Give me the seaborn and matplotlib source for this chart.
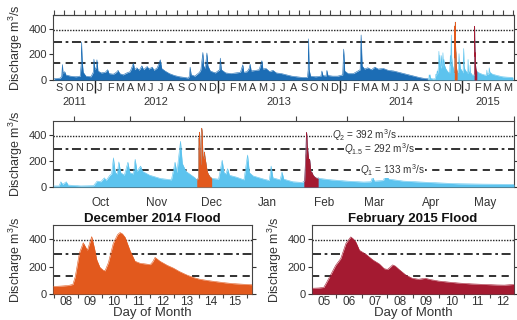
import numpy as np
import pandas as pd
import matplotlib
matplotlib.use('Agg')
import matplotlib.pyplot as plt
import matplotlib.dates as mdates
import matplotlib.transforms as mtransforms
from matplotlib.ticker import NullFormatter, FuncFormatter
import seaborn as sns

sns.set_theme(style='ticks')
plt.rcParams['font.family'] = ['Liberation Sans', 'DejaVu Sans']
plt.rcParams['mathtext.fontset'] = 'custom'
plt.rcParams['mathtext.rm'] = 'Liberation Sans'
plt.rcParams['mathtext.it'] = 'Liberation Sans:italic'
plt.rcParams['mathtext.bf'] = 'Liberation Sans:bold'

# return-period discharges (m3/s)
Q2 = 392
Q15 = 292
Q1 = 133

# daily record before the study period (dark blue)
early_dates = [
    '2011-09-01', '2011-09-20', '2011-09-24', '2011-09-26', '2011-09-28', '2011-10-03',
    '2011-10-06', '2011-10-20', '2011-11-05', '2011-11-18', '2011-11-21', '2011-11-22',
    '2011-11-24', '2011-11-27', '2011-12-05', '2011-12-20', '2011-12-27', '2011-12-29',
    '2012-01-01', '2012-01-05', '2012-01-07', '2012-01-10', '2012-01-20', '2012-02-01',
    '2012-02-08', '2012-02-12', '2012-02-25', '2012-03-05', '2012-03-10', '2012-03-15',
    '2012-03-25', '2012-04-05', '2012-04-15', '2012-04-25', '2012-04-28', '2012-05-05',
    '2012-05-12', '2012-05-20', '2012-05-25', '2012-06-05', '2012-06-10', '2012-06-20',
    '2012-06-25', '2012-07-05', '2012-07-14', '2012-07-18', '2012-07-28', '2012-08-10',
    '2012-08-25', '2012-09-10', '2012-09-25', '2012-10-05', '2012-10-09', '2012-10-11',
    '2012-10-14', '2012-10-25', '2012-11-08', '2012-11-12', '2012-11-18', '2012-11-20',
    '2012-11-25', '2012-11-30', '2012-12-03', '2012-12-10', '2012-12-25', '2013-01-07',
    '2013-01-09', '2013-01-12', '2013-01-25', '2013-02-10', '2013-02-25', '2013-03-10',
    '2013-03-17', '2013-03-20', '2013-03-30', '2013-04-05', '2013-04-08', '2013-04-11',
    '2013-04-25', '2013-05-05', '2013-05-13', '2013-05-16', '2013-05-25', '2013-06-05',
    '2013-06-15', '2013-06-25', '2013-07-10', '2013-07-25', '2013-08-10', '2013-08-25',
    '2013-09-10', '2013-09-26', '2013-09-28', '2013-09-29', '2013-10-01', '2013-10-05',
    '2013-10-20', '2013-11-05', '2013-11-08', '2013-11-11', '2013-11-20', '2013-11-23',
    '2013-11-26', '2013-12-10', '2013-12-25', '2014-01-09', '2014-01-12', '2014-01-15',
    '2014-01-25', '2014-02-10', '2014-02-20', '2014-03-02', '2014-03-05', '2014-03-08',
    '2014-03-15', '2014-03-25', '2014-04-05', '2014-04-15', '2014-04-25', '2014-05-10',
    '2014-05-25', '2014-06-10', '2014-06-25', '2014-07-10', '2014-07-25', '2014-08-10',
    '2014-08-25', '2014-09-10', '2014-09-20',
]
early_q = [
    10, 15, 30, 120, 50, 65,
    40, 30, 25, 30, 120, 295,
    150, 60, 30, 25, 60, 162,
    80, 100, 157, 70, 55, 60,
    80, 50, 45, 60, 75, 50,
    40, 55, 65, 130, 80, 95,
    75, 110, 80, 105, 85, 100,
    75, 95, 157, 90, 70, 50,
    35, 25, 20, 15, 30, 100,
    40, 30, 60, 80, 214, 110,
    90, 210, 110, 70, 55, 80,
    170, 80, 55, 50, 55, 60,
    118, 60, 65, 90, 123, 70,
    75, 80, 150, 85, 90, 65,
    75, 55, 50, 40, 30, 25,
    20, 20, 80, 320, 80, 30,
    25, 30, 70, 35, 30, 75,
    35, 30, 30, 40, 240, 70,
    50, 50, 65, 80, 350, 110,
    85, 95, 80, 100, 85, 90,
    75, 70, 60, 50, 40, 30,
    20, 12, 10,
]

# study period Sep 2014 - May 2015 (light blue), flood windows excluded
study_dates = [
    '2014-09-20', '2014-09-23', '2014-09-24', '2014-09-25', '2014-09-27', '2014-09-28',
    '2014-10-05', '2014-10-12', '2014-10-14', '2014-10-16', '2014-10-18', '2014-10-19',
    '2014-10-21', '2014-10-22', '2014-10-23', '2014-10-24', '2014-10-25', '2014-10-26',
    '2014-10-27', '2014-10-29', '2014-10-31', '2014-11-01', '2014-11-03', '2014-11-04',
    '2014-11-05', '2014-11-07', '2014-11-08', '2014-11-12', '2014-11-18', '2014-11-24',
    '2014-11-26', '2014-11-27', '2014-11-29', '2014-11-30', '2014-12-02', '2014-12-05',
    '2014-12-07',
    '2014-12-17', '2014-12-20', '2014-12-22', '2014-12-23', '2014-12-24', '2014-12-25',
    '2014-12-26', '2014-12-30', '2015-01-03', '2015-01-05', '2015-01-06', '2015-01-08',
    '2015-01-14', '2015-01-17', '2015-01-18', '2015-01-19', '2015-01-23', '2015-01-24',
    '2015-01-25', '2015-01-30', '2015-02-04',
    '2015-02-14', '2015-02-20', '2015-03-01', '2015-03-10', '2015-03-14', '2015-03-15',
    '2015-03-16', '2015-03-21', '2015-03-22', '2015-03-24', '2015-04-01', '2015-04-15',
    '2015-05-01', '2015-05-15', '2015-06-01',
]
study_q = [
    8, 8, 40, 20, 40, 15,
    8, 10, 45, 40, 70, 50,
    90, 100, 223, 110, 100, 192,
    110, 90, 190, 110, 100, 212,
    120, 160, 120, 90, 65, 55,
    190, 110, 350, 180, 120, 90,
    70,
    65, 60, 205, 110, 100, 140,
    90, 75, 55, 245, 110, 85,
    60, 50, 160, 70, 55, 115,
    60, 40, 35,
    65, 55, 45, 38, 40, 77,
    45, 50, 95, 60, 45, 35,
    25, 22, 20,
]

# December 2014 flood (day of month, discharge)
dec_day = [7.98, 8.3, 8.6, 8.8, 8.9, 9.07, 9.23, 9.4, 9.58, 9.7, 9.79, 9.92, 10.05,
           10.13, 10.27, 10.47, 10.65, 10.75, 10.85, 10.96, 11.16, 11.37, 11.58, 11.8,
           12.0, 12.1, 12.2, 12.4, 12.7, 12.95, 13.2, 13.5, 13.8, 14.05, 14.4, 14.74,
           15.1, 15.43, 15.8, 16.2]
dec_q = [55, 58, 62, 70, 128, 300, 375, 320, 420, 330, 250, 195, 175,
         170, 230, 370, 435, 450, 440, 415, 320, 240, 225, 220,
         215, 235, 268, 240, 210, 190, 165, 140, 120, 108, 98, 90,
         82, 76, 72, 68]

# February 2015 flood (day of month, discharge)
feb_day = [5.05, 5.3, 5.5, 5.6, 5.8, 5.97, 6.17, 6.37, 6.56, 6.65, 6.76, 6.9, 7.16,
           7.42, 7.68, 7.87, 8.0, 8.1, 8.2, 8.3, 8.45, 8.71, 8.97, 9.22, 9.48, 9.7,
           10.0, 10.4, 10.8, 11.3, 11.8, 12.3, 12.58, 12.95]
feb_q = [42, 44, 48, 80, 150, 210, 260, 370, 418, 405, 380, 320, 290,
         250, 220, 185, 180, 195, 213, 205, 180, 140, 115, 108, 115, 105,
         95, 87, 80, 74, 70, 66, 65, 70]

C_EARLY = '#1c6db5'
C_STUDY = '#5cc3ee'
C_DEC = '#e2591d'
C_FEB = '#a41a31'
C_LINE = '#222222'
C_TEXT = '#333333'


def day_to_time(month_start, days):
    return pd.Timestamp(month_start) + pd.to_timedelta(np.array(days) - 1, unit='D')


early_t = pd.to_datetime(early_dates)
dec_t = day_to_time('2014-12-01', dec_day)
feb_t = day_to_time('2015-02-01', feb_day)

study = pd.concat([
    pd.DataFrame({'t': pd.to_datetime(study_dates), 'q': study_q}),
    pd.DataFrame({'t': dec_t, 'q': dec_q}),
    pd.DataFrame({'t': feb_t, 'q': feb_q}),
]).sort_values('t')


def hydro(ax, t, q, color):
    sns.lineplot(x=t, y=q, ax=ax, color=color, lw=0.4, estimator=None, sort=False, zorder=3)
    ax.fill_between(t, 0, q, color=color, lw=0, zorder=3)


def q_lines(ax):
    ax.axhline(Q2, color=C_LINE, lw=1.0, ls=(0, (1, 1)), zorder=1)
    ax.axhline(Q15, color=C_LINE, lw=1.3, ls=(0, (5, 2, 1.5, 2)), zorder=1)
    ax.axhline(Q1, color=C_LINE, lw=1.3, ls=(0, (4, 3)), zorder=1)


def style_y(ax):
    ax.set_ylim(0, 505)
    ax.set_yticks([0, 200, 400])
    ax.set_ylabel('Discharge m$^3$/s', fontsize=9, color=C_TEXT, labelpad=2)
    ax.tick_params(axis='y', labelsize=8, colors=C_TEXT, length=3, width=0.8, pad=1.5)
    ax.tick_params(axis='y', right=True, direction='out')
    for s in ax.spines.values():
        s.set_color('#444444')
        s.set_linewidth(0.8)
        s.set_visible(True)
    ax.set_xlabel('')


fig = plt.figure(figsize=(5.17, 3.2), dpi=100)
W, H = 517.0, 320.0


def box(x0, y0, x1, y1):
    return [x0 / W, 1 - y1 / H, (x1 - x0) / W, (y1 - y0) / H]


ax1 = fig.add_axes(box(53, 15, 514, 80))
ax2 = fig.add_axes(box(53, 121, 514, 187))
ax3 = fig.add_axes(box(53, 225, 252, 294))
ax4 = fig.add_axes(box(312, 225, 514, 294))

# --- full record ---
q_lines(ax1)
hydro(ax1, early_t, early_q, C_EARLY)
hydro(ax1, study['t'], study['q'], C_STUDY)
hydro(ax1, dec_t, dec_q, C_DEC)
hydro(ax1, feb_t, feb_q, C_FEB)
x0, x1 = pd.Timestamp('2011-08-29'), pd.Timestamp('2015-06-04')
ax1.set_xlim(x0, x1)
style_y(ax1)
ax1.xaxis.set_major_locator(mdates.YearLocator())
ax1.xaxis.set_major_formatter(NullFormatter())
ax1.xaxis.set_minor_locator(mdates.MonthLocator(bymonthday=15))
ax1.xaxis.set_minor_formatter(FuncFormatter(lambda v, p: mdates.num2date(v).strftime('%b')[0]))
ax1.tick_params(axis='x', which='major', length=9, width=1.0, color=C_LINE, direction='out')
ax1.tick_params(axis='x', which='minor', length=0, labelsize=7.8, colors=C_TEXT, pad=2.5)
top = ax1.secondary_xaxis('top')
top.xaxis.set_major_locator(mdates.MonthLocator())
top.xaxis.set_major_formatter(NullFormatter())
top.tick_params(length=3.5, width=0.8, color='#444444', direction='out')
top.spines['top'].set_color('#444444')
top.spines['top'].set_linewidth(0.8)
yr_tr = mtransforms.blended_transform_factory(ax1.transData, ax1.transAxes)
for yr in [2011, 2012, 2013, 2014, 2015]:
    a = max(pd.Timestamp(f'{yr}-01-01'), x0)
    b = min(pd.Timestamp(f'{yr + 1}-01-01'), x1)
    mid = a + (b - a) / 2
    ax1.text(mdates.date2num(mid), -0.335, str(yr), transform=yr_tr, ha='center', va='center',
             fontsize=8, color=C_TEXT)

# --- study period ---
q_lines(ax2)
hydro(ax2, study['t'], study['q'], C_STUDY)
hydro(ax2, dec_t, dec_q, C_DEC)
hydro(ax2, feb_t, feb_q, C_FEB)
ax2.set_xlim(pd.Timestamp('2014-09-19 16:00'), pd.Timestamp('2015-06-01'))
style_y(ax2)
ax2.xaxis.set_major_locator(mdates.MonthLocator())
ax2.xaxis.set_major_formatter(NullFormatter())
ax2.xaxis.set_minor_locator(mdates.MonthLocator(bymonthday=16))
ax2.xaxis.set_minor_formatter(mdates.DateFormatter('%b'))
ax2.tick_params(axis='x', which='major', bottom=False, top=True, length=3.5, width=0.8,
                color='#444444', direction='out')
ax2.tick_params(axis='x', which='minor', bottom=False, top=False, labelbottom=True,
                labelsize=8.5, colors=C_TEXT, pad=3)
lab_box = dict(facecolor='white', edgecolor='none', pad=0.1)
q_labels = [
    ('2015-03-10 12:00', Q2, 5, '$Q_2$ = 392 m$^3$/s'),
    ('2015-03-19', Q15, -3, '$Q_{1.5}$ = 292 m$^3$/s'),
    ('2015-03-26', Q1, 0, '$Q_1$ = 133 m$^3$/s'),
]
for when, level, nudge, txt in q_labels:
    ax2.text(pd.Timestamp(when), level + nudge, txt, ha='center', va='center',
             fontsize=7.2, color=C_TEXT, bbox=lab_box, zorder=5)

# --- flood close-ups ---
for ax, t, q, c, title, lims in [
    (ax3, dec_t, dec_q, C_DEC, 'December 2014 Flood', ('2014-12-07 23:30', '2014-12-16 05:00')),
    (ax4, feb_t, feb_q, C_FEB, 'February 2015 Flood', ('2015-02-05 01:00', '2015-02-12 23:00')),
]:
    q_lines(ax)
    hydro(ax, t, q, c)
    ax.set_xlim(pd.Timestamp(lims[0]), pd.Timestamp(lims[1]))
    style_y(ax)
    ax.xaxis.set_major_locator(mdates.DayLocator())
    ax.xaxis.set_major_formatter(NullFormatter())
    ax.xaxis.set_minor_locator(mdates.HourLocator(byhour=12))
    ax.xaxis.set_minor_formatter(mdates.DateFormatter('%d'))
    ax.tick_params(axis='x', which='major', length=3, width=0.8, color='#444444', direction='out')
    ax.tick_params(axis='x', which='minor', length=0, labelsize=8.5, colors=C_TEXT, pad=1.5)
    ax.set_title(title, fontsize=9.5, fontweight='bold', color='#111111', pad=2)
    ax.set_xlabel('Day of Month', fontsize=9.5, color=C_TEXT, labelpad=-1)

fig.savefig('out.png', dpi=100)
